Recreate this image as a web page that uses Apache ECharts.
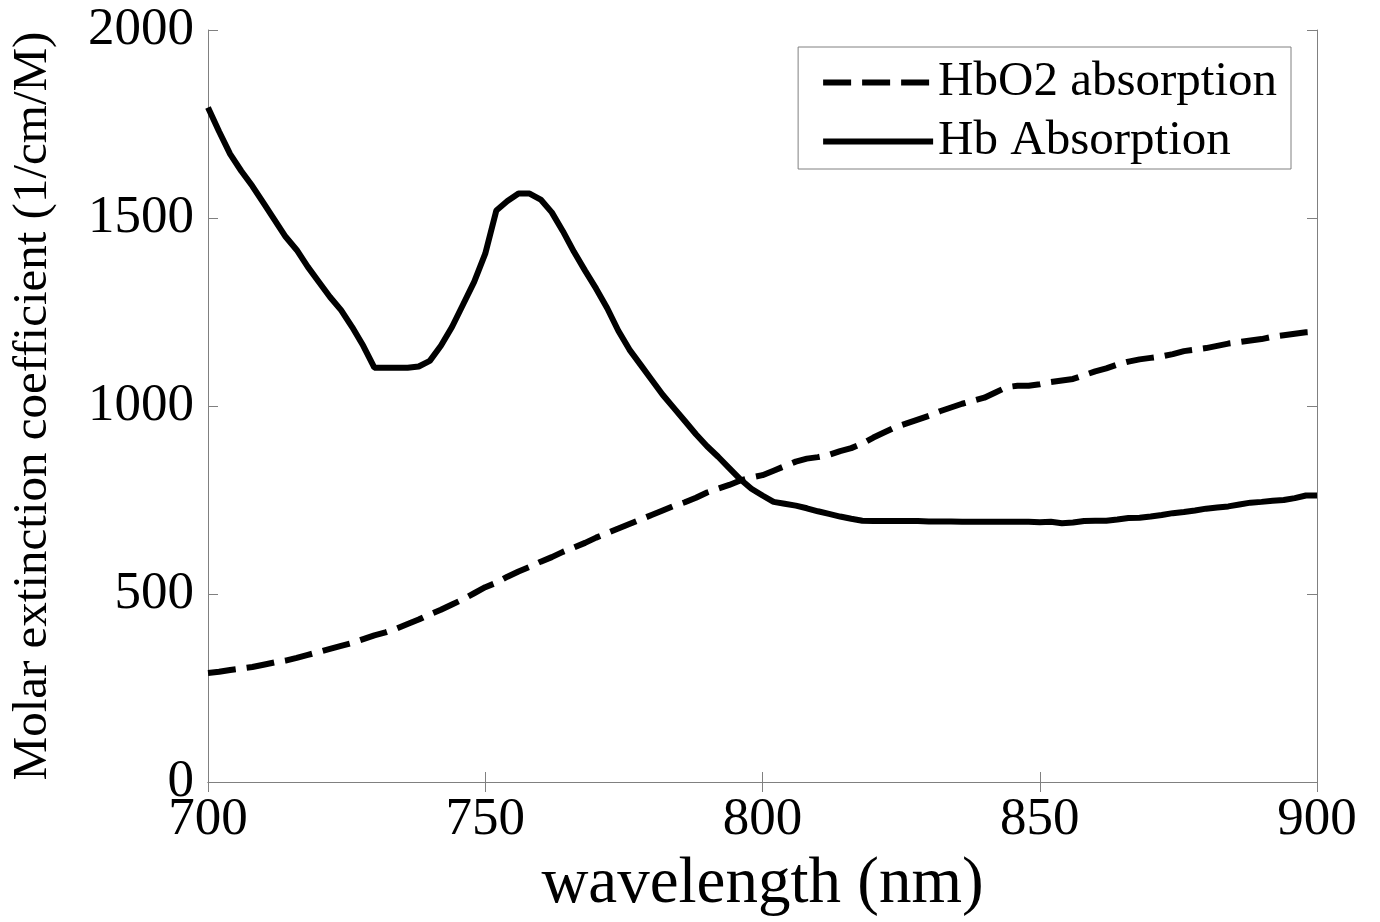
<!DOCTYPE html>
<html>
<head>
<meta charset="utf-8">
<script src="https://cdn.jsdelivr.net/npm/echarts@6/dist/echarts.min.js"></script>
<style>html,body{margin:0;padding:0;background:#fff}#c{width:1380px;height:922px}</style>
</head>
<body>
<div id="c"></div>
<script>
// wavelengths 700..900 nm, 2 nm step
const wavelengths = [700,702,704,706,708,710,712,714,716,718,720,722,724,726,728,730,732,734,736,738,740,742,744,746,748,750,752,754,756,758,760,762,764,766,768,770,772,774,776,778,780,782,784,786,788,790,792,794,796,798,800,802,804,806,808,810,812,814,816,818,820,822,824,826,828,830,832,834,836,838,840,842,844,846,848,850,852,854,856,858,860,862,864,866,868,870,872,874,876,878,880,882,884,886,888,890,892,894,896,898,900];
const hbo2 = [290,293,298,302,306,312,318,323,330,338,346,354,362,370,380,390,398,408,420,432,446,458,472,486,502,518,530,546,560,572,586,598,612,624,636,650,662,674,686,698,710,722,734,744,756,770,780,790,802,810,816,828,840,852,860,864,870,880,888,900,916,930,944,954,964,974,986,996,1006,1014,1022,1036,1050,1054,1054,1058,1064,1068,1072,1082,1092,1100,1110,1118,1124,1128,1132,1138,1146,1150,1154,1160,1166,1170,1174,1178,1184,1188,1192,1196,1198];
const hb = [1794,1730,1670,1625,1585,1540,1495,1450,1415,1370,1330,1290,1255,1210,1160,1102,1102,1102,1102,1105,1120,1160,1210,1270,1330,1405,1520,1545,1565,1565,1549,1515,1465,1410,1360,1312,1260,1200,1150,1110,1070,1030,995,960,925,893,865,835,805,780,762,745,740,735,728,720,713,706,700,695,694,694,694,694,694,693,693,693,692,692,692,692,692,692,692,691,692,688,690,694,695,695,698,702,703,706,710,715,718,722,727,730,733,738,743,745,748,750,755,762,762];
const xTicks = {min: 700, max: 900, interval: 50};
const yTicks = {min: 0, max: 2000, interval: 500};
const seriesNames = ['HbO2 absorption', 'Hb Absorption'];
const xName = 'wavelength (nm)';
const yName = 'Molar extinction coefficient (1/cm/M)';

const FONT = "'Liberation Serif','Times New Roman',serif";
const frame = '#808080';
const chart = echarts.init(document.getElementById('c'));
const tickCommon = {show: true, inside: true, length: 10, lineStyle: {color: frame, width: 1}};
chart.setOption({
  animation: false,
  backgroundColor: '#fff',
  grid: {left: 208, right: 63, top: 30, bottom: 132},
  legend: {
    orient: 'vertical', right: 89, top: 47,
    padding: [11, 14, 3, 22], itemGap: 10,
    itemWidth: 110, itemHeight: 20,
    borderColor: frame, borderWidth: 1, backgroundColor: '#fff',
    lineStyle: {width: 6},
    itemStyle: {opacity: 0, borderWidth: 0},
    textStyle: {fontFamily: FONT, fontSize: 49, color: '#000'},
    data: seriesNames
  },
  xAxis: [{
    type: 'value', min: xTicks.min, max: xTicks.max, interval: xTicks.interval,
    position: 'bottom',
    axisLine: {show: true, lineStyle: {color: frame, width: 1}},
    axisTick: tickCommon, splitLine: {show: false},
    axisLabel: {fontFamily: FONT, fontSize: 53, color: '#000', margin: 12, formatter: v => String(v)},
    name: xName, nameLocation: 'middle', nameGap: 70,
    nameTextStyle: {fontFamily: FONT, fontSize: 65, color: '#000'}
  }, {
    type: 'value', min: xTicks.min, max: xTicks.max, interval: xTicks.interval,
    position: 'top',
    axisLine: {show: true, lineStyle: {color: frame, width: 1}},
    axisTick: tickCommon, splitLine: {show: false}, axisLabel: {show: false}
  }],
  yAxis: [{
    type: 'value', min: yTicks.min, max: yTicks.max, interval: yTicks.interval,
    position: 'left',
    axisLine: {show: true, lineStyle: {color: frame, width: 1}},
    axisTick: tickCommon, splitLine: {show: false},
    axisLabel: {fontFamily: FONT, fontSize: 53, color: '#000', margin: 14, formatter: v => String(v)},
    name: yName, nameLocation: 'middle', nameGap: 150,
    nameTextStyle: {fontFamily: FONT, fontSize: 49, color: '#000'}
  }, {
    type: 'value', min: yTicks.min, max: yTicks.max, interval: yTicks.interval,
    position: 'right',
    axisLine: {show: true, lineStyle: {color: frame, width: 1}},
    axisTick: tickCommon, splitLine: {show: false}, axisLabel: {show: false}
  }],
  series: [{
    name: seriesNames[0], type: 'line', showSymbol: false, symbol: 'none',
    lineStyle: {color: '#000', width: 6, type: [28, 11]}, itemStyle: {color: '#000'},
    data: wavelengths.map((w, i) => [w, hbo2[i]])
  }, {
    name: seriesNames[1], type: 'line', showSymbol: false, symbol: 'none',
    lineStyle: {color: '#000', width: 6, type: 'solid'}, itemStyle: {color: '#000'},
    data: wavelengths.map((w, i) => [w, hb[i]])
  }]
});
</script>
</body>
</html>
